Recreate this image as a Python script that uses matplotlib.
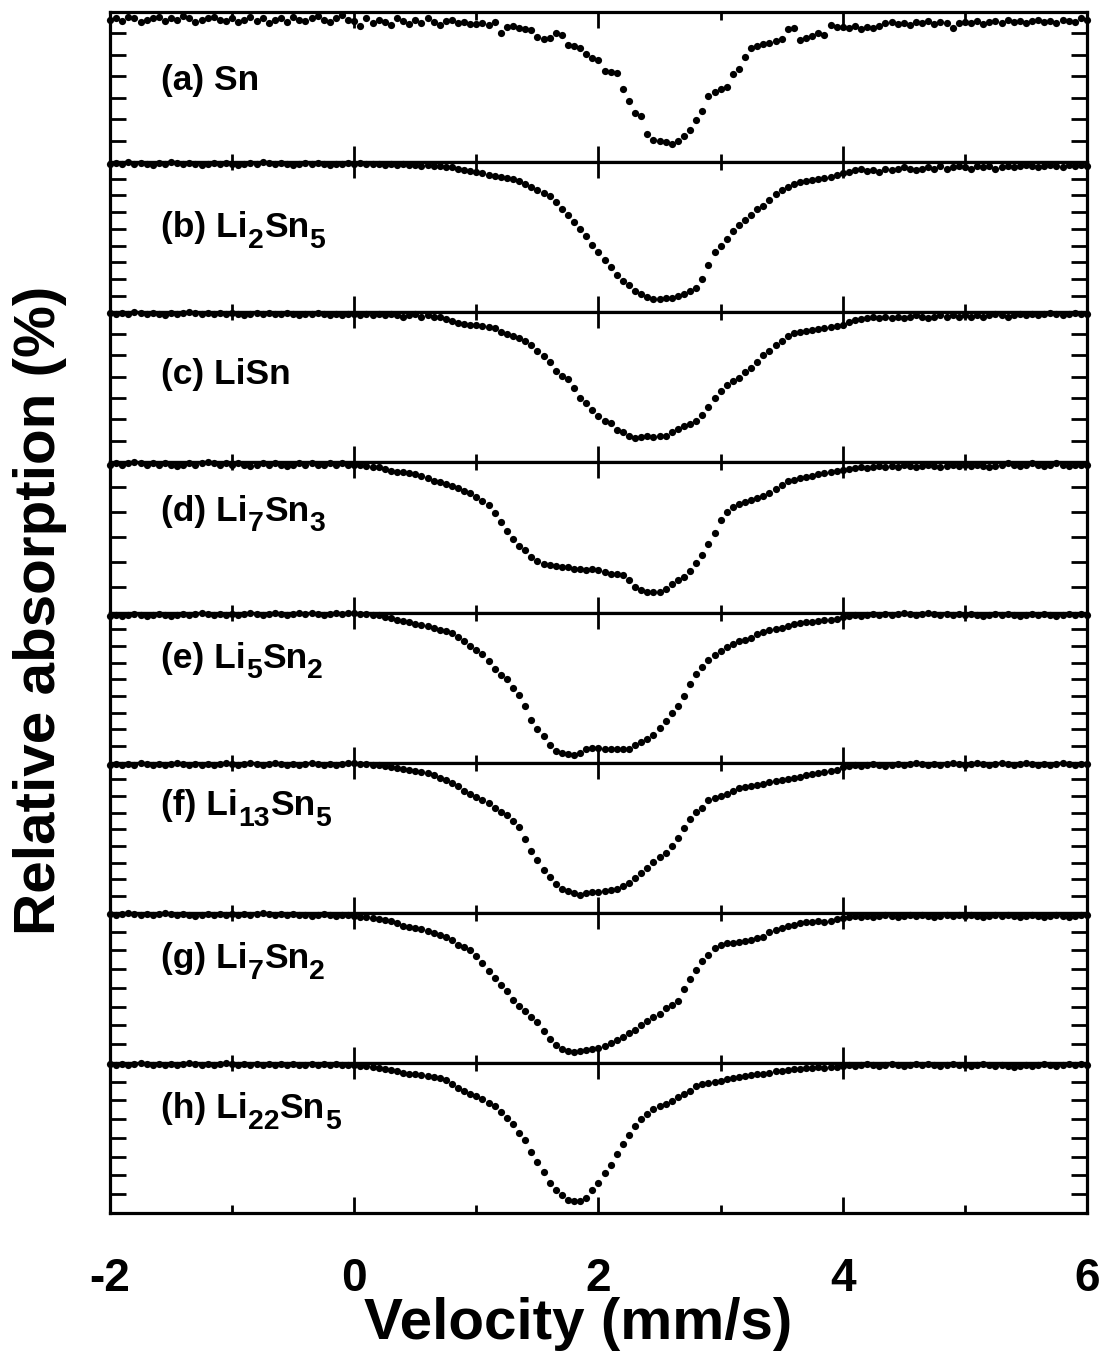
import numpy as np
import matplotlib
matplotlib.use('Agg')
import matplotlib.pyplot as plt
import matplotlib.transforms as mtransforms

plt.rcParams['font.family'] = 'Liberation Sans'
plt.rcParams['font.weight'] = 'bold'
plt.rcParams['axes.unicode_minus'] = False

# velocity channels (mm/s)
velocity = np.round(np.arange(-2.0, 6.001, 0.05), 2)

# absorption below baseline, one list per sample (same channels as velocity)
sn = [0.35, 0.3, 0.4, 0.25, 0.3, 0.45, 0.35, 0.3, 0.25, 0.4, 0.3, 0.35, 0.2, 0.3, 0.45, 0.35, 0.3, 0.25, 0.35, 0.4,
      0.3, 0.45, 0.35, 0.25, 0.4, 0.3, 0.5, 0.35, 0.3, 0.45, 0.25, 0.35, 0.4, 0.3, 0.2, 0.35, 0.45, 0.3, 0.15, 0.35,
      0.4, 0.65, 0.3, 0.5, 0.35, 0.45, 0.6, 0.3, 0.4, 0.55, 0.35, 0.5, 0.3, 0.45, 0.6, 0.4, 0.35, 0.5, 0.45, 0.55,
      0.55, 0.5, 0.6, 0.47, 1.0, 0.7, 0.65, 0.75, 0.8, 0.85, 1.15, 1.25, 1.2, 1.0, 1.05, 1.55, 1.6, 1.7, 1.95, 2.15,
      2.25, 2.75, 2.8, 2.85, 3.6, 4.15, 4.7, 4.85, 5.7, 5.95, 6.0, 6.05, 6.15, 6.0, 5.8, 5.5, 5.05, 4.6, 3.9, 3.75,
      3.6, 3.5, 2.9, 2.65, 2.1, 1.7, 1.6, 1.5, 1.45, 1.35, 1.25, 0.8, 0.75, 1.3, 1.2, 1.1, 1.0, 1.05, 0.6, 0.7,
      0.7, 0.75, 0.65, 0.8, 0.7, 0.75, 0.65, 0.5, 0.45, 0.55, 0.5, 0.6, 0.45, 0.5, 0.4, 0.55, 0.45, 0.5, 0.75, 0.5,
      0.45, 0.5, 0.4, 0.55, 0.45, 0.4, 0.5, 0.35, 0.45, 0.4, 0.5, 0.4, 0.35, 0.45, 0.4, 0.5, 0.35, 0.4, 0.45, 0.3,
      0.35]

li2sn5 = [0.1, 0.05, 0.1, 0.0, 0.1, 0.05, 0.1, 0.15, 0.05, 0.1, 0.0, 0.05, 0.1, 0.05, 0.1, 0.15, 0.1, 0.05, 0.1, 0.05,
          0.1, 0.15, 0.1, 0.05, 0.1, 0.0, 0.05, 0.1, 0.05, 0.1, 0.15, 0.1, 0.05, 0.1, 0.05, 0.1, 0.15, 0.1, 0.1, 0.05,
          0.1, 0.05, 0.1, 0.1, 0.1, 0.15, 0.1, 0.15, 0.1, 0.15, 0.15, 0.2, 0.15, 0.2, 0.2, 0.25, 0.25, 0.3, 0.35, 0.4,
          0.45, 0.5, 0.6, 0.65, 0.7, 0.75, 0.8, 0.9, 1.0, 1.15, 1.3, 1.45, 1.6, 1.85, 2.2, 2.45, 2.8, 3.1, 3.45, 3.85,
          4.2, 4.55, 4.9, 5.25, 5.55, 5.75, 6.0, 6.15, 6.3, 6.4, 6.4, 6.35, 6.35, 6.25, 6.15, 6.0, 5.85, 5.45, 4.8, 4.2,
          3.9, 3.6, 3.2, 2.95, 2.7, 2.45, 2.2, 2.05, 1.75, 1.5, 1.3, 1.15, 1.0, 0.95, 0.9, 0.85, 0.8, 0.75, 0.7, 0.6,
          0.5, 0.45, 0.35, 0.3, 0.4, 0.35, 0.45, 0.3, 0.35, 0.3, 0.25, 0.3, 0.35, 0.3, 0.25, 0.3, 0.2, 0.3, 0.25, 0.2,
          0.25, 0.3, 0.2, 0.25, 0.2, 0.3, 0.25, 0.2, 0.25, 0.2, 0.15, 0.2, 0.25, 0.2, 0.15, 0.2, 0.25, 0.15, 0.2, 0.15,
          0.2]

lisn = [0.05, 0.1, 0.05, 0.1, 0.0, 0.05, 0.1, 0.05, 0.1, 0.15, 0.05, 0.1, 0.05, 0.0, 0.05, 0.1, 0.05, 0.1, 0.05, 0.1,
        0.05, 0.1, 0.15, 0.1, 0.05, 0.1, 0.05, 0.1, 0.1, 0.05, 0.1, 0.15, 0.1, 0.1, 0.05, 0.1, 0.15, 0.1, 0.15, 0.1,
        0.1, 0.15, 0.1, 0.15, 0.1, 0.15, 0.1, 0.15, 0.2, 0.15, 0.1, 0.2, 0.15, 0.2, 0.2, 0.3, 0.4, 0.5, 0.55, 0.6,
        0.6, 0.65, 0.7, 0.73, 0.9, 1.0, 1.1, 1.2, 1.35, 1.55, 1.8, 2.05, 2.3, 2.75, 2.95, 3.1, 3.55, 4.0, 4.25, 4.55,
        4.85, 5.05, 5.15, 5.5, 5.6, 5.75, 5.85, 5.8, 5.75, 5.8, 5.75, 5.75, 5.6, 5.45, 5.3, 5.2, 5.05, 4.8, 4.4, 4.0,
        3.65, 3.4, 3.2, 3.05, 2.8, 2.6, 2.3, 2.0, 1.8, 1.55, 1.35, 1.12, 0.95, 0.9, 0.88, 0.85, 0.8, 0.75, 0.7, 0.65,
        0.58, 0.45, 0.35, 0.3, 0.25, 0.2, 0.25, 0.2, 0.25, 0.2, 0.25, 0.2, 0.15, 0.2, 0.25, 0.2, 0.15, 0.2, 0.15, 0.2,
        0.15, 0.2, 0.15, 0.2, 0.15, 0.1, 0.15, 0.2, 0.15, 0.1, 0.15, 0.1, 0.15, 0.1, 0.05, 0.1, 0.15, 0.1, 0.05, 0.1,
        0.1]

li7sn3 = [0.1, 0.05, 0.1, 0.05, 0.0, 0.05, 0.1, 0.05, 0.1, 0.05, 0.1, 0.15, 0.1, 0.05, 0.1, 0.05, 0.0, 0.05, 0.1, 0.05,
          0.1, 0.05, 0.1, 0.15, 0.1, 0.05, 0.1, 0.05, 0.1, 0.15, 0.1, 0.05, 0.1, 0.05, 0.1, 0.1, 0.05, 0.1, 0.05, 0.1,
          0.1, 0.1, 0.15, 0.2, 0.2, 0.3, 0.4, 0.45, 0.45, 0.5, 0.55, 0.65, 0.75, 0.85, 0.9, 1.0, 1.1, 1.2, 1.35, 1.45,
          1.6, 1.8, 2.0, 2.35, 2.8, 3.2, 3.55, 3.9, 4.1, 4.4, 4.6, 4.75, 4.8, 4.85, 4.9, 4.9, 4.95, 4.95, 5.0, 4.95,
          5.0, 5.1, 5.2, 5.2, 5.25, 5.5, 5.8, 5.95, 6.05, 6.05, 6.05, 5.9, 5.65, 5.5, 5.35, 5.05, 4.7, 4.3, 3.8, 3.3,
          2.7, 2.3, 2.1, 1.95, 1.85, 1.75, 1.65, 1.55, 1.45, 1.25, 1.05, 0.85, 0.8, 0.75, 0.7, 0.65, 0.55, 0.5, 0.45, 0.4,
          0.35, 0.3, 0.25, 0.2, 0.25, 0.2, 0.15, 0.2, 0.15, 0.2, 0.1, 0.15, 0.2, 0.15, 0.1, 0.15, 0.2, 0.15, 0.1, 0.15,
          0.1, 0.15, 0.1, 0.15, 0.2, 0.15, 0.1, 0.05, 0.1, 0.15, 0.1, 0.05, 0.1, 0.15, 0.1, 0.05, 0.1, 0.15, 0.1, 0.1,
          0.1]

li5sn2 = [0.15, 0.1, 0.15, 0.1, 0.05, 0.1, 0.15, 0.1, 0.05, 0.1, 0.15, 0.1, 0.05, 0.1, 0.05, 0.0, 0.05, 0.1, 0.05, 0.1,
          0.05, 0.1, 0.05, 0.0, 0.05, 0.1, 0.05, 0.0, 0.05, 0.1, 0.05, 0.0, 0.05, 0.0, 0.05, 0.1, 0.05, 0.0, 0.05, 0.0,
          0.0, 0.05, 0.05, 0.1, 0.1, 0.2, 0.27, 0.35, 0.4, 0.45, 0.55, 0.6, 0.65, 0.73, 0.8, 0.85, 0.95, 1.15, 1.35, 1.55,
          1.75, 1.95, 2.25, 2.65, 2.9, 3.1, 3.5, 3.85, 4.35, 5.0, 5.45, 5.75, 6.2, 6.45, 6.55, 6.6, 6.65, 6.55, 6.35, 6.3,
          6.3, 6.35, 6.35, 6.35, 6.35, 6.35, 6.2, 6.05, 5.9, 5.7, 5.4, 5.05, 4.7, 4.35, 3.9, 3.35, 2.85, 2.55, 2.2, 2.0,
          1.8, 1.6, 1.45, 1.35, 1.3, 1.2, 1.0, 0.9, 0.8, 0.75, 0.7, 0.65, 0.55, 0.5, 0.45, 0.42, 0.4, 0.35, 0.35, 0.3,
          0.2, 0.15, 0.1, 0.15, 0.1, 0.05, 0.1, 0.05, 0.1, 0.05, 0.0, 0.05, 0.1, 0.05, 0.0, 0.05, 0.1, 0.05, 0.1, 0.05,
          0.1, 0.05, 0.1, 0.15, 0.1, 0.05, 0.1, 0.05, 0.1, 0.15, 0.1, 0.05, 0.1, 0.05, 0.1, 0.15, 0.1, 0.05, 0.1, 0.05,
          0.1]

li13sn5 = [0.1, 0.05, 0.1, 0.05, 0.1, 0.0, 0.05, 0.1, 0.05, 0.1, 0.05, 0.0, 0.05, 0.1, 0.05, 0.1, 0.05, 0.1, 0.05, 0.0,
           0.05, 0.1, 0.05, 0.0, 0.05, 0.1, 0.05, 0.0, 0.05, 0.1, 0.05, 0.1, 0.05, 0.0, 0.05, 0.1, 0.05, 0.1, 0.05, 0.0,
           0.0, 0.05, 0.05, 0.1, 0.1, 0.15, 0.2, 0.25, 0.3, 0.35, 0.4, 0.45, 0.5, 0.6, 0.7, 0.8, 0.95, 1.1, 1.3, 1.45,
           1.6, 1.75, 1.9, 2.1, 2.3, 2.45, 2.7, 3.0, 3.55, 4.1, 4.55, 5.0, 5.35, 5.65, 5.9, 6.0, 6.1, 6.15, 6.1, 6.05,
           6.05, 6.0, 5.95, 5.9, 5.75, 5.6, 5.4, 5.15, 4.9, 4.65, 4.4, 4.2, 3.9, 3.5, 3.05, 2.65, 2.3, 2.1, 1.75, 1.65,
           1.55, 1.45, 1.3, 1.2, 1.15, 1.1, 1.05, 1.0, 0.9, 0.85, 0.8, 0.75, 0.7, 0.65, 0.6, 0.55, 0.5, 0.45, 0.4, 0.35,
           0.2, 0.15, 0.1, 0.15, 0.1, 0.05, 0.1, 0.15, 0.1, 0.05, 0.1, 0.05, 0.0, 0.05, 0.1, 0.05, 0.1, 0.05, 0.0, 0.05,
           0.1, 0.05, 0.0, 0.05, 0.1, 0.05, 0.0, 0.05, 0.1, 0.05, 0.0, 0.05, 0.1, 0.05, 0.1, 0.05, 0.0, 0.05, 0.1, 0.05,
           0.05]

li7sn2 = [0.05, 0.1, 0.05, 0.0, 0.05, 0.1, 0.05, 0.1, 0.05, 0.0, 0.05, 0.1, 0.05, 0.1, 0.15, 0.1, 0.05, 0.1, 0.05, 0.1,
          0.05, 0.1, 0.05, 0.1, 0.05, 0.0, 0.05, 0.1, 0.05, 0.1, 0.05, 0.1, 0.1, 0.15, 0.1, 0.05, 0.1, 0.15, 0.1, 0.1,
          0.15, 0.2, 0.2, 0.25, 0.3, 0.35, 0.4, 0.5, 0.6, 0.65, 0.7, 0.75, 0.85, 0.95, 1.05, 1.15, 1.25, 1.5, 1.6, 1.75,
          2.0, 2.35, 2.7, 3.05, 3.35, 3.65, 4.05, 4.35, 4.6, 4.85, 5.1, 5.5, 5.9, 6.15, 6.35, 6.45, 6.5, 6.45, 6.4, 6.35,
          6.3, 6.2, 6.05, 5.95, 5.8, 5.6, 5.45, 5.25, 5.05, 4.85, 4.7, 4.45, 4.3, 4.1, 3.55, 3.1, 2.65, 2.25, 1.95, 1.65,
          1.5, 1.4, 1.4, 1.35, 1.3, 1.25, 1.2, 1.15, 0.9, 0.8, 0.7, 0.6, 0.55, 0.5, 0.45, 0.45, 0.4, 0.45, 0.4, 0.3,
          0.25, 0.2, 0.15, 0.2, 0.15, 0.2, 0.15, 0.1, 0.15, 0.2, 0.15, 0.1, 0.15, 0.1, 0.15, 0.2, 0.15, 0.1, 0.15, 0.1,
          0.15, 0.1, 0.15, 0.2, 0.15, 0.1, 0.15, 0.1, 0.15, 0.2, 0.15, 0.1, 0.15, 0.2, 0.15, 0.1, 0.15, 0.2, 0.15, 0.1,
          0.1]

li22sn5 = [0.05, 0.1, 0.05, 0.1, 0.05, 0.0, 0.05, 0.1, 0.05, 0.1, 0.05, 0.1, 0.05, 0.0, 0.05, 0.1, 0.05, 0.1, 0.05, 0.0,
           0.05, 0.1, 0.05, 0.1, 0.05, 0.1, 0.05, 0.1, 0.05, 0.1, 0.05, 0.1, 0.1, 0.05, 0.1, 0.05, 0.1, 0.05, 0.1, 0.1,
           0.1, 0.15, 0.15, 0.2, 0.25, 0.3, 0.35, 0.4, 0.45, 0.5, 0.5, 0.55, 0.6, 0.65, 0.7, 0.8, 1.0, 1.15, 1.3, 1.45,
           1.55, 1.7, 1.85, 2.0, 2.3, 2.55, 2.85, 3.25, 3.6, 4.15, 4.6, 5.1, 5.6, 5.95, 6.15, 6.4, 6.45, 6.45, 6.3, 5.95,
           5.6, 5.15, 4.75, 4.25, 3.8, 3.35, 2.95, 2.6, 2.4, 2.15, 2.0, 1.9, 1.8, 1.6, 1.45, 1.3, 1.1, 1.0, 0.95, 0.9,
           0.85, 0.75, 0.7, 0.65, 0.6, 0.55, 0.5, 0.5, 0.45, 0.4, 0.4, 0.35, 0.3, 0.3, 0.25, 0.25, 0.2, 0.25, 0.2, 0.2,
           0.15, 0.1, 0.15, 0.1, 0.05, 0.1, 0.15, 0.1, 0.05, 0.1, 0.15, 0.1, 0.05, 0.1, 0.05, 0.1, 0.15, 0.1, 0.05, 0.1,
           0.1, 0.15, 0.1, 0.05, 0.1, 0.15, 0.1, 0.15, 0.2, 0.15, 0.1, 0.15, 0.1, 0.05, 0.1, 0.15, 0.1, 0.05, 0.1, 0.05,
           0.1]

spectra = [sn, li2sn5, lisn, li7sn3, li5sn2, li13sn5, li7sn2, li22sn5]
# panel labels as (text, subscript?) pieces
labels = [[('(a) Sn', False)],
          [('(b) Li', False), ('2', True), ('Sn', False), ('5', True)],
          [('(c) LiSn', False)],
          [('(d) Li', False), ('7', True), ('Sn', False), ('3', True)],
          [('(e) Li', False), ('5', True), ('Sn', False), ('2', True)],
          [('(f) Li', False), ('13', True), ('Sn', False), ('5', True)],
          [('(g) Li', False), ('7', True), ('Sn', False), ('2', True)],
          [('(h) Li', False), ('22', True), ('Sn', False), ('5', True)]]
# number of y tick intervals on each panel
y_divisions = [7, 9, 7, 6, 9, 9, 8, 8]
label_base = [0.52, 0.50, 0.48, 0.39, 0.37, 0.35, 0.37, 0.37]

fig, axes = plt.subplots(len(spectra), 1, sharex=True, figsize=(11.03, 13.52), dpi=100)
fig.subplots_adjust(left=110 / 1103, right=1087 / 1103, top=1 - 12 / 1352,
                    bottom=1 - 1213 / 1352, hspace=0)
renderer = fig.canvas.get_renderer()


def formula(ax, x, y, pieces, size=25.5):
    # write text piece by piece so subscripts can be large and dropped low
    dx = 0.0
    for txt, sub in pieces:
        fs = size * 0.8 if sub else size
        dy = -7.5 if sub else 0.0
        tr = mtransforms.offset_copy(ax.transData, fig=fig, x=dx, y=dy, units='points')
        t = ax.text(x, y, txt, transform=tr, fontsize=fs, fontweight='bold',
                    ha='left', va='baseline')
        dx += t.get_window_extent(renderer).width * 72 / fig.dpi


for ax, y, lab, ndiv, lb in zip(axes, spectra, labels, y_divisions, label_base):
    y = np.asarray(y)
    assert len(y) == len(velocity)
    ax.plot(velocity, y, 'o', color='k', markersize=5.2, markeredgewidth=0, clip_on=False)
    ax.set_xlim(-2, 6)
    ax.set_ylim(7, 0)
    ax.set_yticks(np.linspace(0, 7, ndiv + 1))
    ax.set_xticks([-2, 0, 2, 4, 6])
    ax.set_xticks([-1, 1, 3, 5], minor=True)
    ax.tick_params(which='both', direction='in', top=True, right=True, width=2,
                   labelleft=False, labelsize=33, pad=32)
    ax.tick_params(which='major', length=11.5)
    ax.tick_params(which='minor', length=5.5)
    for s in ax.spines.values():
        s.set_linewidth(2.3)
    formula(ax, -1.58, 7 * lb, lab)

fig.text(578 / 1103, 1 - 1324 / 1352, 'Velocity (mm/s)', fontsize=42, fontweight='bold',
         ha='center', va='center')
fig.text(40 / 1103, 1 - 610 / 1352, 'Relative absorption (%)', fontsize=42, fontweight='bold',
         ha='center', va='center', rotation=90)

fig.savefig('out.png', dpi=100)
